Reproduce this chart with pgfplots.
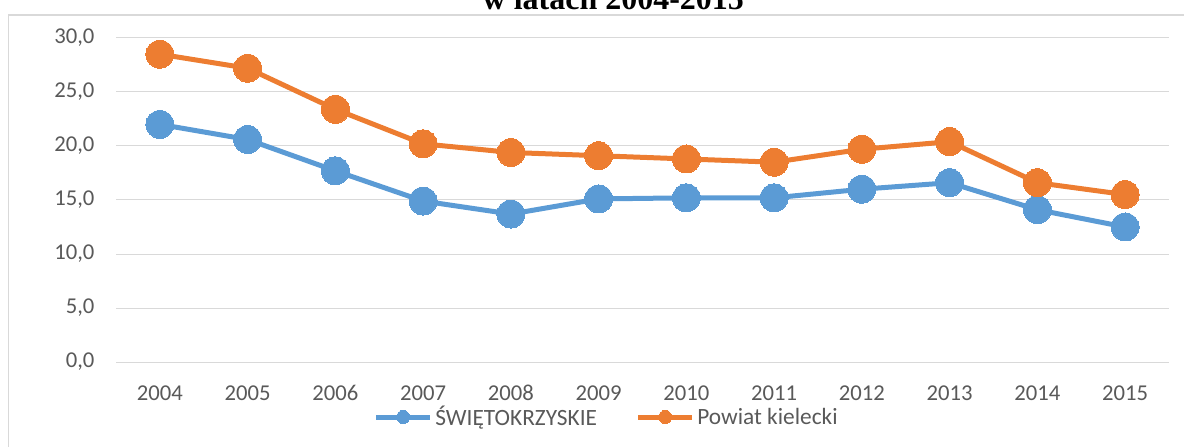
\documentclass[border=0pt]{standalone}
\usepackage{pgfplots}
\pgfplotsset{compat=1.18}
\usepackage{fontspec}
\setmainfont{Carlito}
\newfontfamily\titlefont{Liberation Serif}
\definecolor{cblue}{HTML}{5B9BD5}
\definecolor{corange}{HTML}{ED7D31}
\definecolor{textgray}{HTML}{595959}
\definecolor{gridgray}{HTML}{D9D9D9}
\begin{document}
\begin{tikzpicture}
\useasboundingbox (0pt,0pt) rectangle (888pt,334.5pt);
\draw[gridgray, line width=0.9pt] (6.2pt,-10pt) -- (6.2pt,323.2pt) -- (900pt,323.2pt);
\node[anchor=base, inner sep=0pt, font=\titlefont\bfseries\fontsize{24}{24}\selectfont] at (460pt,327.5pt) {w latach 2004-2015};
\begin{axis}[
  at={(87pt,63pt)}, anchor=south west,
  scale only axis, width=789.75pt, height=243pt,
  xmin=-0.5, xmax=11.5, ymin=0, ymax=30,
  xtick={0,...,11},
  xticklabels={2004,2005,2006,2007,2008,2009,2010,2011,2012,2013,2014,2015},
  ytick={0,5,...,30},
  ymajorgrids, grid style={gridgray, line width=0.75pt},
  axis line style={draw=none},
  major tick style={draw=none},
  clip=false,
  /pgf/number format/.cd, fixed, fixed zerofill, precision=1, use comma, assume math mode=true,
  /pgfplots/.cd,
  yticklabel style={font=\fontsize{17}{17}\selectfont, text=textgray, anchor=east, inner sep=0pt, xshift=-16pt},
  xticklabel style={font=\fontsize{17}{17}\selectfont, text=textgray, anchor=base, inner sep=0pt, yshift=-28.5pt},
  legend style={at={(0.4663,-0.1698)}, anchor=center, draw=none, fill=none,
    legend columns=2, font=\fontsize{17.5}{17.5}\selectfont, text=textgray, inner sep=0pt,
    /tikz/every even column/.append style={column sep=27pt}},
  legend cell align=left,
  legend image code/.code={%
    \draw[#1, mark=none] (0pt,0pt) -- (40.5pt,0pt);
    \draw[#1, only marks] plot coordinates {(20.25pt,0pt)};},
  legend image post style={mark size=4.9pt},
]
\addplot[color=cblue, line width=3.75pt, mark=*, mark size=10.5pt, mark options={fill=cblue, draw=cblue, line width=0pt}] coordinates {
(0,22.0) (1,20.6) (2,17.7) (3,14.9) (4,13.7) (5,15.1) (6,15.2) (7,15.2) (8,16.0) (9,16.6) (10,14.1) (11,12.5)};
\addlegendentry{ŚWIĘTOKRZYSKIE}
\addplot[color=corange, line width=3.75pt, mark=*, mark size=10.5pt, mark options={fill=corange, draw=corange, line width=0pt}] coordinates {
(0,28.5) (1,27.2) (2,23.4) (3,20.2) (4,19.4) (5,19.1) (6,18.8) (7,18.5) (8,19.7) (9,20.4) (10,16.6) (11,15.5)};
\addlegendentry{Powiat kielecki}
\end{axis}
\end{tikzpicture}
\end{document}
